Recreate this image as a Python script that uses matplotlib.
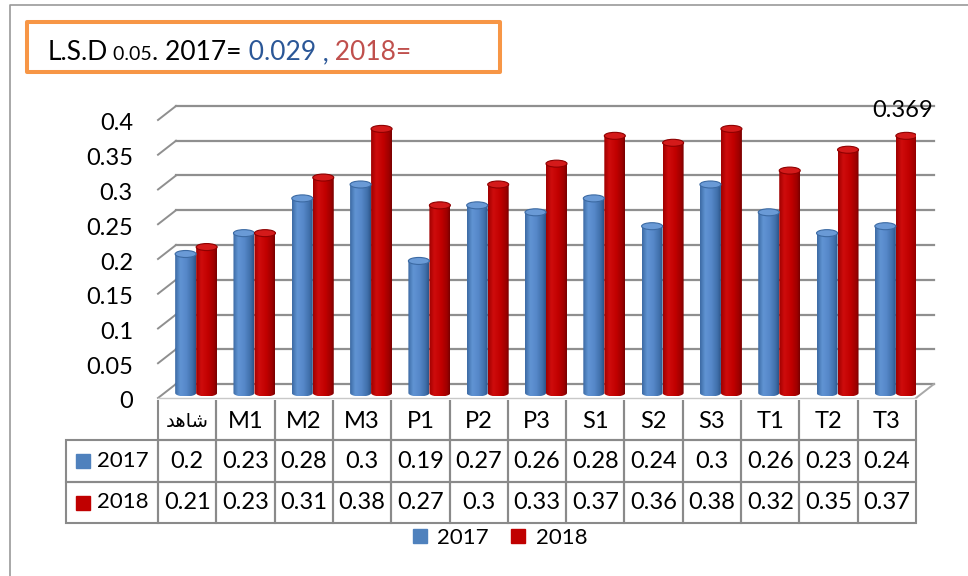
import numpy as np
import matplotlib
matplotlib.use("Agg")
import matplotlib.pyplot as plt
from matplotlib.patches import Ellipse, PathPatch, Rectangle
from matplotlib.path import Path
from matplotlib.lines import Line2D
from matplotlib.table import Table
from matplotlib.colors import to_rgb
from matplotlib.transforms import ScaledTranslation

plt.rcParams['font.family'] = ['Lato', 'DejaVu Sans']

categories = ["\ufeaa\ufeeb\ufe8e\ufeb7", "M1", "M2", "M3", "P1", "P2", "P3",
              "S1", "S2", "S3", "T1", "T2", "T3"]   # first one is "شاهد" pre-shaped
years = ["2017", "2018"]
v2017 = [0.2, 0.23, 0.28, 0.3, 0.19, 0.27, 0.26, 0.28, 0.24, 0.3, 0.26, 0.23, 0.24]
v2018 = [0.21, 0.23, 0.31, 0.38, 0.27, 0.3, 0.33, 0.37, 0.36, 0.38, 0.32, 0.35, 0.37]
yticks = [0, 0.05, 0.1, 0.15, 0.2, 0.25, 0.3, 0.35, 0.4]
ytick_labels = ["0", "0.05", "0.1", "0.15", "0.2", "0.25", "0.3", "0.35", "0.4"]
t3_label = 0.369
lsd_2017 = "0.029"

colors = {"2017": "#4F81BD", "2018": "#C00000"}
grad_stops = {
    "2017": [(0.0, "#3c6aa3"), (0.25, "#6194d4"), (0.55, "#5688c9"), (0.85, "#3f6ea9"), (1.0, "#2d5488")],
    "2018": [(0.0, "#9e0000"), (0.25, "#cf0c0c"), (0.6, "#c00000"), (0.88, "#9c0000"), (1.0, "#760000")],
}
cap_colors = {"2017": ("#6a9ad6", "#3c6aa3"), "2018": ("#d41a1a", "#8e0000")}

FS = 17  # main text size

W, H = 968, 576
fig = plt.figure(figsize=(W / 100, H / 100), dpi=100)


def px_rect(x0, y0, x1, y1):
    return [x0 / W, 1 - y1 / H, (x1 - x0) / W, (y1 - y0) / H]


# front plane of the 3d box
AX_W, AX_H = 758.0, 278.0
ax = fig.add_axes(px_rect(158, 120, 916, 398))
n = len(categories)
ax.set_xlim(-0.5, n - 0.5)
ax.set_ylim(0, 0.4)
for s in ax.spines.values():
    s.set_visible(False)

ux = n / AX_W      # data units per pixel
uy = 0.4 / AX_H
back_dx, back_dy = 18 * ux, 14 * uy
mid_dx, mid_dy = 9 * ux, 5 * uy

grid_c = "#8f8f8f"
for t in yticks:
    ax.plot([-0.5 + back_dx, n - 0.5 + back_dx], [t + back_dy] * 2, color=grid_c, lw=1.6, zorder=1, clip_on=False)
    ax.plot([-0.5, -0.5 + back_dx], [t, t + back_dy], color=grid_c, lw=1.4, zorder=1, clip_on=False)
# floor
ax.plot([n - 0.5, n - 0.5 + back_dx], [0, back_dy], color="#a8a8a8", lw=1.4, zorder=1, clip_on=False)
ax.plot([-0.5, n - 0.5], [0, 0], color="#c8c8c8", lw=1.0, zorder=1, clip_on=False)


def gradient(stops, npts=64):
    pos = [p for p, _ in stops]
    rgb = np.array([to_rgb(c) for _, c in stops])
    xs = np.linspace(0, 1, npts)
    return np.stack([np.interp(xs, pos, rgb[:, k]) for k in range(3)], axis=-1)[None, :, :]


def cylinder(xc, bottom, top, w, eh, key):
    t = np.linspace(0, np.pi, 40)
    verts = [(xc + w / 2, top), (xc + w / 2, bottom)]
    verts += list(zip(xc + w / 2 * np.cos(t), bottom - eh / 2 * np.sin(t)))
    verts += [(xc - w / 2, top), (xc + w / 2, top)]
    codes = [Path.MOVETO] + [Path.LINETO] * (len(verts) - 2) + [Path.CLOSEPOLY]
    clip = PathPatch(Path(verts, codes), transform=ax.transData, fc="none", ec="none")
    ax.add_patch(clip)
    im = ax.imshow(gradient(grad_stops[key]), extent=[xc - w / 2, xc + w / 2, bottom - eh / 2, top],
                   aspect="auto", interpolation="bicubic", origin="lower", zorder=3)
    im.set_clip_path(clip)
    fc, ec = cap_colors[key]
    ax.add_patch(Ellipse((xc, top), w, eh, fc=fc, ec=ec, lw=0.8, zorder=3.2))


bar_w = 21 * ux
eh = 7 * uy
for i in range(n):
    for key, vals, side in (("2017", v2017, -0.5), ("2018", v2018, 0.5)):
        xc = i + mid_dx + side * bar_w
        cylinder(xc, mid_dy, mid_dy + vals[i], bar_w, eh, key)

ax.set_xlim(-0.5, n - 0.5)
ax.set_ylim(0, 0.4)
ax.set_xticks([])
ax.set_yticks(yticks, ytick_labels)
ax.tick_params(axis="y", length=0, pad=25 * 0.72, labelsize=FS)
for lab in ax.get_yticklabels():
    lab.set_transform(lab.get_transform() + ScaledTranslation(0, -2 / 100, fig.dpi_scale_trans))

# value label over T3 (2018)
ax.annotate(f"{t3_label:g}", xy=(n - 1 + mid_dx + 0.5 * bar_w, mid_dy + t3_label),
            xytext=(-3, 19), textcoords="offset points", ha="center", va="center",
            fontsize=FS, annotation_clip=False)

# data table (sizes in axes units so the bbox scaling is 1)
col_w = 1.0 / n
lab_w = 92 / AX_W
row_h = [40 / AX_H, 42 / AX_H, 41 / AX_H]
tab = Table(ax, bbox=[0, -(523 - 398) / AX_H, 1, sum(row_h)])
for j, c in enumerate(categories):
    cell = tab.add_cell(0, j, width=col_w, height=row_h[0], text=c, loc="center")
    cell.visible_edges = "BLR"
for r, (yr, vals) in enumerate(zip(years, (v2017, v2018))):
    tab.add_cell(r + 1, -1, width=lab_w, height=row_h[r + 1], text=yr, loc="right")
    for j, v in enumerate(vals):
        tab.add_cell(r + 1, j, width=col_w, height=row_h[r + 1], text=f"{v:g}", loc="center")
tab.auto_set_font_size(False)
tab.set_fontsize(FS)
for (r, c), cell in tab.get_celld().items():
    cell.set_edgecolor("#8a8a8a")
    cell.set_linewidth(1.5)
    cell.set_facecolor("none")
    if r == 0:
        cell.get_text().set_va("center_baseline")
    if c == -1:
        cell.get_text().set_fontsize(16)
tab[0, 0].get_text().set_fontsize(14)
ax.add_table(tab)

for r, yr in enumerate(years):
    yc = (398 - (461 if r == 0 else 502.5)) / AX_H
    ax.plot([(83 - 158) / AX_W], [yc], marker="s", ms=10, color=colors[yr], ls="none",
            transform=ax.transAxes, clip_on=False)

# legend
handles = [Line2D([], [], marker="s", ls="none", ms=10.5, color=colors[y]) for y in years]
fig.legend(handles, years, loc="center", bbox_to_anchor=(499 / W, 1 - 538 / H), ncol=2,
           frameon=False, fontsize=16, handlelength=0.8, handletextpad=0.4, columnspacing=0.9)

# chart frame (left/top edges visible)
fig.add_artist(Line2D([10 / W, 10 / W, 1], [0, 1 - 5 / H, 1 - 5 / H], color="#9a9a9a", lw=1.2,
                      transform=fig.transFigure))

# LSD box
fig.add_artist(Rectangle((27 / W, 1 - 72 / H), (500 - 27) / W, 50 / H, transform=fig.transFigure,
                         fill=False, ec="#F79646", lw=2.9, joinstyle="round"))
pieces = [("L.S.D", 19, "black"), (" 0.05", 14, "black"), (". 2017=", 19, "black"),
          (" " + lsd_2017, 19, "#2B5797"), (" ,", 19, "#2B5797"), (" 2018=", 19, "#C0504D")]
renderer = fig.canvas.get_renderer()
x = 48
for s, size, col in pieces:
    t = fig.text(x / W, 1 - 60 / H, s, fontsize=size, color=col, va="baseline", ha="left")
    x = t.get_window_extent(renderer).x1

fig.savefig("out.png", dpi=100)
